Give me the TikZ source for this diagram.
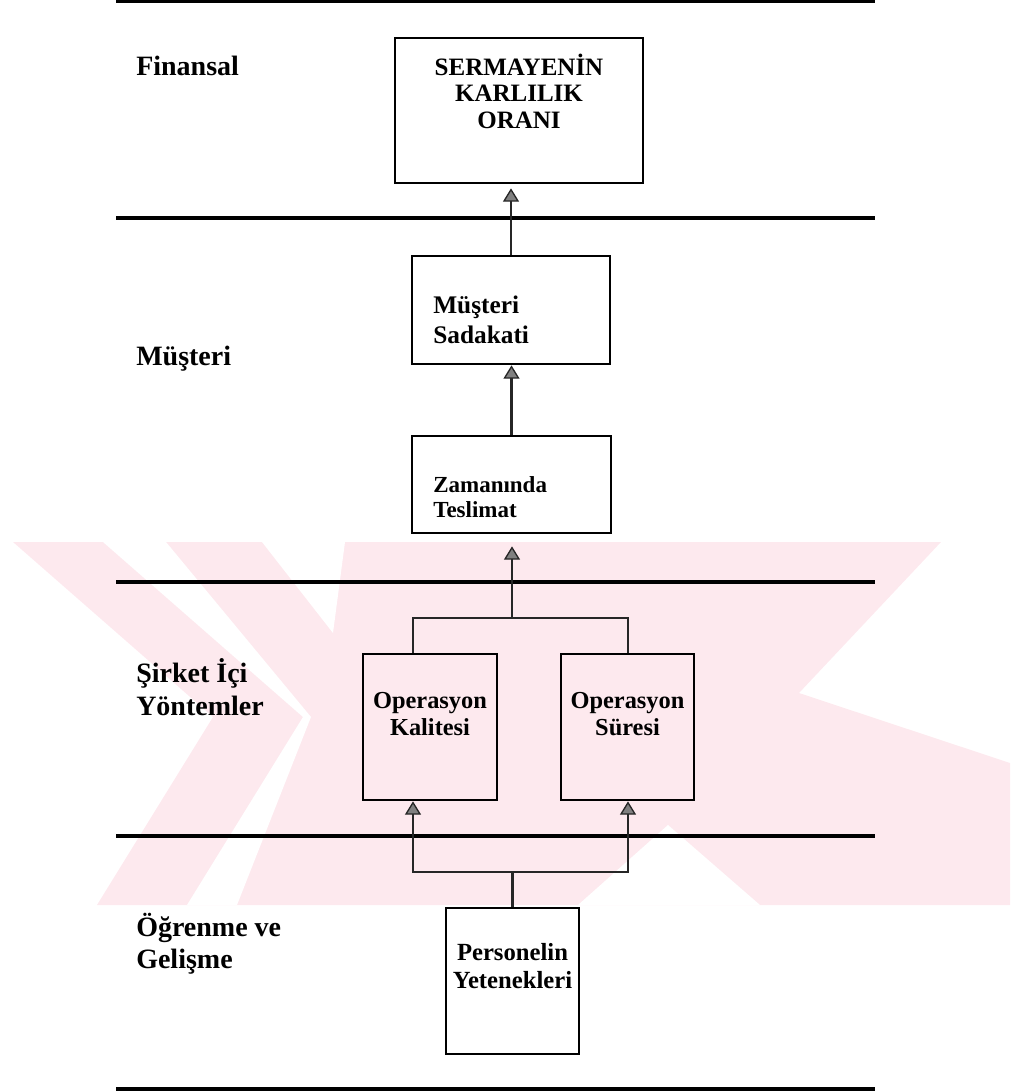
\documentclass[tikz,border=0pt]{standalone}
\usepackage{fontspec}
\setmainfont{Liberation Serif}
\usetikzlibrary{arrows.meta}
\definecolor{wmpink}{RGB}{253,233,238}
% multi-line bold text block whose reference point is the first baseline
\newcommand{\txtblock}[4]{{\fontsize{#1}{#2}\selectfont\bfseries\begin{tabular}[t]{@{}#3@{}}#4\end{tabular}}}
% framed box given by its corners in pixel units
\newcommand{\boxat}[5]{\node[boxst, minimum width={(#4-#2)*0.75pt}, minimum height={(#5-#3)*0.75pt}] (#1) at ({(#2+#4)/2},{(#3+#5)/2}) {};}

\begin{document}
\begin{tikzpicture}[x=0.75pt,y=-0.75pt,
  sepline/.style={line width=2.4pt},
  boxst/.style={draw, line width=2pt, inner sep=0pt},
  conn/.style={line width=1.7pt, draw=black!85},
  arr/.style={-{Triangle[length=10pt,width=12pt,fill=black!50,line width=1pt]}},
  lbl/.style={anchor=base west, inner sep=0pt},
  wm/.style={fill=wmpink},
  gap/.style={fill=white}
]
\useasboundingbox (0,0) rectangle (1010,1092);

% background mark: a pale band with chevron-shaped openings
\fill[wm] (13,542) -- (941,542) -- (799,693) -- (1010,763) -- (1010,905)
  -- (97,905) -- (213,717) -- cycle;
\fill[gap] (103,542) -- (166,542) -- (311,717) -- (237,905) -- (187,905) -- (303,717) -- cycle;
\fill[gap] (262,542) -- (345,542) -- (333,633) -- cycle;
\fill[gap] (578,905) -- (668,825) -- (760,905) -- cycle;

% section separators
\draw[sepline] (116,1.5) -- (875,1.5);
\draw[sepline] (116,218) -- (875,218);
\draw[sepline] (116,582) -- (875,582);
\draw[sepline] (116,836) -- (875,836);
\draw[sepline] (116,1089) -- (875,1089);

% perspective labels
\node[lbl] at (136,75) {\txtblock{21pt}{24pt}{l}{Finansal}};
\node[lbl] at (136,365) {\txtblock{21pt}{24pt}{l}{Müşteri}};
\node[lbl] at (136,682) {\txtblock{21pt}{24.75pt}{l}{Şirket İçi\\Yöntemler}};
\node[lbl] at (136,936) {\txtblock{21pt}{24.5pt}{l}{Öğrenme ve\\Gelişme}};

% boxes
\boxat{fin}{395}{38}{643}{183}
\boxat{sad}{412}{256}{610}{364}
\boxat{zam}{412}{436}{611}{533}
\boxat{kal}{363}{654}{497}{800}
\boxat{sur}{561}{654}{694}{800}
\boxat{per}{446}{908}{579}{1054}

% box texts
\node[anchor=base, inner sep=0pt] at (519,75) {\txtblock{18.75pt}{19.9pt}{c}{SERMAYENİN\\KARLILIK\\ORANI}};
\node[anchor=base west, inner sep=0pt] at (433,313) {\txtblock{19pt}{22.5pt}{l}{Müşteri\\Sadakati}};
\node[anchor=base west, inner sep=0pt] at (433,492) {\txtblock{17.25pt}{18.75pt}{l}{Zamanında\\Teslimat}};
\node[anchor=base, inner sep=0pt] at (430,708) {\txtblock{18.3pt}{20.25pt}{c}{Operasyon\\Kalitesi}};
\node[anchor=base, inner sep=0pt] at (627.5,708) {\txtblock{18.3pt}{20.25pt}{c}{Operasyon\\Süresi}};
\node[anchor=base, inner sep=0pt] at (512.5,960) {\txtblock{18.5pt}{21pt}{c}{Personelin\\Yetenekleri}};

% junction points
\coordinate (jt) at (512,618);
\coordinate (jl) at (413,618);
\coordinate (jr) at (628,618);
\coordinate (jb) at (512.5,872);
\coordinate (bl) at (413,872);
\coordinate (br) at (628,872);

% connectors
\draw[conn,arr,shorten >=3pt] (sad.north) -- (sad.north |- fin.south);
\draw[conn,arr] (zam.north) -- (zam.north |- sad.south);
\draw[conn] (jl |- kal.north) -- (jl) -- (jr) -- (jr |- sur.north);
\draw[conn,arr,shorten >=9pt] (jt) -- (jt |- zam.south);
\draw[conn] (per.north) -- (jb);
\draw[conn,{Triangle[length=10pt,width=12pt,fill=black!50,line width=1pt]}-{Triangle[length=10pt,width=12pt,fill=black!50,line width=1pt]}] (bl |- kal.south) -- (bl) -- (br) -- (br |- sur.south);
\end{tikzpicture}
\end{document}
